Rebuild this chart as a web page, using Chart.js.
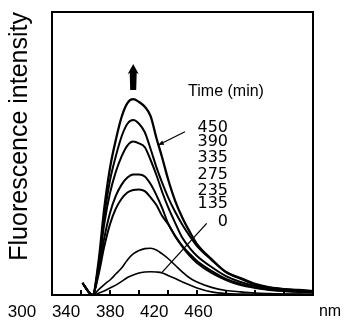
<!DOCTYPE html>
<html>
<head>
<meta charset="utf-8">
<script src="https://cdn.jsdelivr.net/npm/chart.js@4/dist/chart.umd.min.js"></script>
<style>
  body { margin: 0; background: #fff; }
  canvas { display: block; }
</style>
</head>
<body>
<canvas id="grafico" width="345" height="327"></canvas>
<script>
// wavelength (nm) where the curves were read
var comprimento = [321, 328, 332, 336, 340, 344, 348, 352, 356, 360, 364, 368, 372, 376, 380,
                   385, 390, 395, 400, 410, 420, 430, 440, 450, 460, 470, 480]

// fluorescence intensity (arbitrary units, 0-100 = box height) for each time in minutes
var tempos = ['450', '390', '335', '275', '235', '135', '0']
var i450 = [4.2, 0, 11.3, 30.4, 44.9, 54.8, 62.9, 67.8, 69.2, 68.2, 66.5, 63.2, 55.5, 48.5, 41,
            33.2, 27.2, 22.3, 18, 12.7, 8.1, 6, 3.9, 2.7, 2.1, 1.8, 1.4]
var i390 = [4.2, 0, 10.3, 27.5, 40.5, 49, 56, 60.5, 61.8, 60.5, 57.5, 51.6, 45.2, 39.6, 34.6,
            29.3, 24.7, 20.8, 17.3, 12.4, 8.1, 5.7, 3.7, 2.65, 2.1, 1.6, 1.4]
var i335 = [4.2, 0, 9.5, 25, 36, 43.5, 49, 52.8, 54.2, 53.6, 52.2, 47.7, 42.4, 36.4, 31.1,
            25.4, 20.1, 16.6, 13.8, 9.9, 6.7, 4.6, 3.2, 2.3, 1.8, 1.4, 1.2]
var i275 = [4.2, 0, 8, 20, 29, 35, 39, 41.5, 42.6, 42.6, 41.9, 39.2, 35.3, 30.7, 25.4,
            20.8, 17, 13.8, 11.3, 7.8, 5.3, 3.5, 2.5, 1.8, 1.4, 1.1, 0.9]
var i235 = [4.2, 0, 7, 17, 25, 30.5, 34, 36.2, 37.1, 37.3, 36.7, 34.5, 31.8, 27.9, 25.1,
            20.7, 17.3, 14.5, 12, 8.5, 5.7, 3.9, 2.7, 1.9, 1.4, 1.2, 1.1]
var i135 = [4.2, 0, 1.8, 3.7, 5.3, 7.4, 9.5, 12.4, 14.5, 15.7, 16.4, 16.5, 15.9, 14.5, 12.9,
            10.5, 8.1, 6, 4.6, 2.7, 1.6, 1.1, 0.7, 0.5, 0.35, 0.3, 0.25]
var i0   = [4.2, 0, 0.6, 1.4, 2.5, 3.5, 4.8, 6.2, 7.1, 7.8, 8.1, 8.2, 8.1, 7.8, 6.9,
            5.8, 4.6, 3.5, 2.5, 1.1, 0.5, 0.35, 0.25, 0.25, 0.25, 0.25, 0.25]
var series = [i450, i390, i335, i275, i235, i135, i0]

// axis text and marks
var marcasX = [320, 340, 360, 380, 400, 420, 440, 460]
var rotuloX = [300, 340, 380, 420, 460]
var unidadeX = 'nm'
var tituloY = 'Fluorescence intensity'
var tituloTempo = 'Time (min)'

// where the annotations sit, in data units (nm, intensity)
var posTitulo = [420, 71.7]
var xNumeros = 421.4
var yNumeros = [59, 54.1, 48.4, 42.6, 36.9, 32.3, 25.8]
var seta450 = [[391.7, 57.7], [373.3, 53.0]]
var linha0 = [[406.7, 25.3], [375.7, 7.9]]
var setaCima = [356, 72.4, 81.6]

var espessuras = [2.3, 2, 2, 2, 2, 1.6, 1.6]

// the printed tick labels do not sit on the 20 nm tick marks, so they get their own scale
var passoRotulo = 1.1025   // px per nm of the label row
var largura = 261
var valorUnidade = 300 + (330 + 30 - 52) / passoRotulo

Chart.defaults.font.family = '"Liberation Sans", Arial, sans-serif'
Chart.defaults.color = '#000'

//Desenha a caixa e as anotações
const anotacoes = {
  id: 'anotacoes',
  afterDatasetsDraw(chart) {
    const {ctx, chartArea: a} = chart
    const x = chart.scales.x, y = chart.scales.y
    const px = v => x.getPixelForValue(v)
    const py = v => y.getPixelForValue(v)
    ctx.save()
    ctx.strokeStyle = '#000'
    ctx.fillStyle = '#000'

    ctx.lineWidth = 2
    ctx.strokeRect(a.left, a.top, a.right - a.left, a.bottom - a.top)

    // inward tick marks every 20 nm
    for (let k = 0; k < marcasX.length; k++) {
      const X = Math.round(px(marcasX[k]))
      ctx.fillRect(X - 1, Math.round(a.bottom) - 5, 2, 5)
    }

    // thick up arrow above the peaks
    const ax = px(setaCima[0]), yb = py(setaCima[1]), yt = py(setaCima[2])
    ctx.beginPath()
    ctx.moveTo(ax - 3, yb)
    ctx.lineTo(ax - 3.5, yt + 9)
    ctx.lineTo(ax - 5.5, yt + 10)
    ctx.lineTo(ax, yt)
    ctx.lineTo(ax + 5.5, yt + 10)
    ctx.lineTo(ax + 3.5, yt + 9)
    ctx.lineTo(ax + 3, yb)
    ctx.closePath()
    ctx.fill()

    // texts
    ctx.textBaseline = 'middle'
    ctx.font = '16px "Liberation Sans", Arial, sans-serif'
    ctx.textAlign = 'center'
    ctx.fillText(tituloTempo, px(posTitulo[0]), py(posTitulo[1]))

    ctx.font = '16px "DejaVu Sans", sans-serif'
    ctx.textAlign = 'right'
    tempos.forEach((t, k) => ctx.fillText(t, px(xNumeros), py(yNumeros[k])))

    // pointer to the 450 curve
    ctx.lineWidth = 1.3
    const p0 = [px(seta450[0][0]), py(seta450[0][1])]
    const p1 = [px(seta450[1][0]), py(seta450[1][1])]
    ctx.beginPath()
    ctx.moveTo(p0[0], p0[1])
    ctx.lineTo(p1[0], p1[1])
    ctx.stroke()
    const ang = Math.atan2(p1[1] - p0[1], p1[0] - p0[0])
    ctx.beginPath()
    ctx.moveTo(p1[0], p1[1])
    ctx.lineTo(p1[0] - 6 * Math.cos(ang - 0.4), p1[1] - 6 * Math.sin(ang - 0.4))
    ctx.lineTo(p1[0] - 6 * Math.cos(ang + 0.4), p1[1] - 6 * Math.sin(ang + 0.4))
    ctx.closePath()
    ctx.fill()

    // pointer to the 0 curve
    ctx.beginPath()
    ctx.moveTo(px(linha0[0][0]), py(linha0[0][1]))
    ctx.lineTo(px(linha0[1][0]), py(linha0[1][1]))
    ctx.stroke()

    ctx.restore()
  }
}

const ctx = document.getElementById('grafico')

let grafico = new Chart(ctx, {
  type: 'line',
  data: {
    datasets: series.map((s, k) => ({
      label: tempos[k],
      data: s.map((v, j) => ({x: comprimento[j], y: v})),
      borderColor: '#000',
      borderWidth: espessuras[k],
      pointRadius: 0,
      cubicInterpolationMode: 'monotone',
      fill: false,
      clip: 3
    }))
  },
  options: {
    responsive: false,
    animation: false,
    layout: { padding: { top: 12, right: 32, left: 0, bottom: 0 } },
    plugins: { legend: { display: false }, tooltip: { enabled: false } },
    scales: {
      x: {
        type: 'linear', position: 'bottom', weight: 0,
        min: 300, max: 480,
        ticks: { display: false, stepSize: 20 },
        grid: { display: false },
        border: { display: false },
        afterFit: s => { s.height = 0; s.paddingLeft = 0; s.paddingRight = 0 }
      },
      x2: {
        type: 'linear', position: 'bottom', weight: 1,
        min: 300, max: 300 + largura / passoRotulo, bounds: 'data',
        grid: { display: false, drawTicks: false },
        border: { display: false },
        afterBuildTicks: s => {
          s.ticks = rotuloX.map(v => ({value: v})).concat([{value: valorUnidade}])
        },
        ticks: {
          autoSkip: false, maxRotation: 0, minRotation: 0,
          labelOffset: -30, padding: 7, color: '#000',
          font: c => ({ size: (c.tick && c.tick.value > 500) ? 16 : 17 }),
          callback: v => v > 500 ? unidadeX : String(v)
        },
        afterFit: s => { s.height = 32; s.paddingLeft = 0; s.paddingRight = 0 }
      },
      y: {
        min: 0, max: 100,
        ticks: { display: false },
        grid: { display: false },
        border: { display: false },
        title: { display: true, text: tituloY, align: 'end', color: '#000',
                 font: { size: 25 }, padding: { top: 5, bottom: 0 } },
        afterFit: s => { s.width = 52; s.paddingTop = 0; s.paddingBottom = 0 }
      }
    }
  },
  plugins: [anotacoes]
})
</script>
</body>
</html>
